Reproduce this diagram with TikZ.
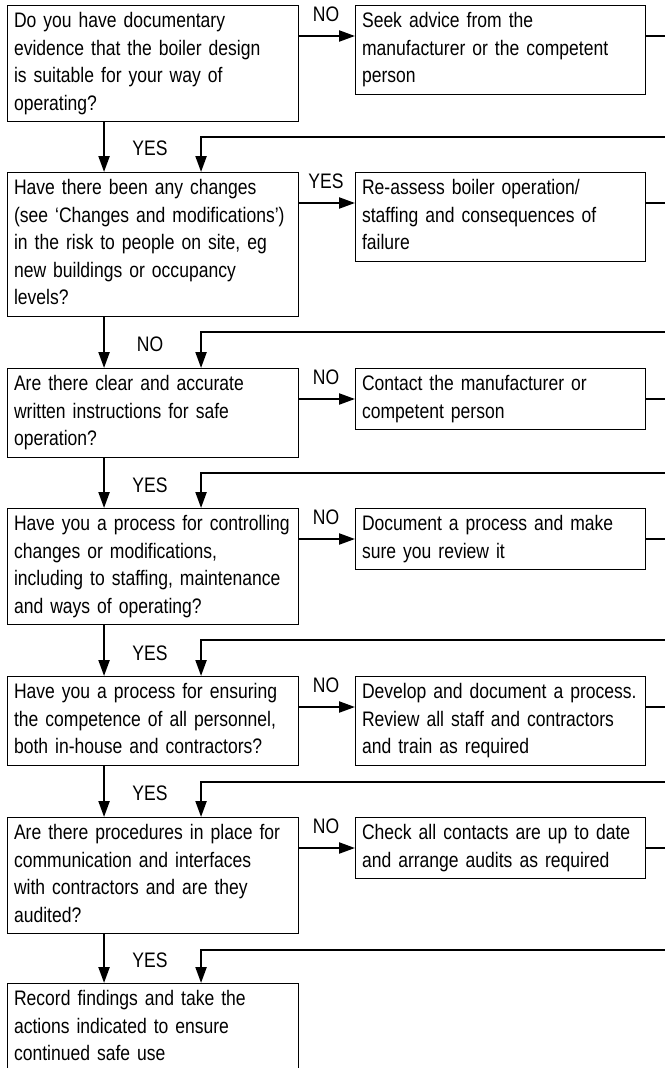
\documentclass[tikz,border=0pt]{standalone}
\usepackage{fontspec}
\setmainfont{Liberation Sans}[FakeStretch=0.835]
\usetikzlibrary{arrows.meta}

\begin{document}
\begin{tikzpicture}[x=1pt,y=-1pt,
		box/.style={draw,line width=1.1pt,anchor=north west,align=left,inner xsep=6.5pt,inner ysep=3pt,font=\fontsize{21}{27.5}\selectfont,execute at begin node=\strut,execute at end node=\strut},
		qbox/.style={box,text width=278pt},
		abox/.style={box,text width=277pt},
		lbl/.style={font=\fontsize{21}{27.5}\selectfont,inner sep=0pt},
		arr/.style={line width=2.2pt,-{Triangle[length=16pt,width=11pt]}}]
			\useasboundingbox (0,0) rectangle (664,1068);
			\node[qbox] (q1) at (7,5) {Do you have documentary\\evidence that the boiler design\\is suitable for your way of\\operating?};
			\node[abox] (a1) at (355,5) {Seek advice from the\\manufacturer or the competent\\person};
			\node[qbox] (q2) at (7,172) {Have there been any changes\\(see ‘Changes and modifications’)\\in the risk to people on site, eg\\new buildings or occupancy\\levels?};
			\node[abox] (a2) at (355,172) {Re-assess boiler operation/\\staffing and consequences of\\failure};
			\node[qbox] (q3) at (7,368) {Are there clear and accurate\\written instructions for safe\\operation?};
			\node[abox] (a3) at (355,368) {Contact the manufacturer or\\competent person};
			\node[qbox] (q4) at (7,508) {Have you a process for controlling\\changes or modifications,\\including to staffing, maintenance\\and ways of operating?};
			\node[abox] (a4) at (355,508) {Document a process and make\\sure you review it};
			\node[qbox] (q5) at (7,676) {Have you a process for ensuring\\the competence of all personnel,\\both in-house and contractors?};
			\node[abox] (a5) at (355,676) {Develop and document a process.\\Review all staff and contractors\\and train as required};
			\node[qbox] (q6) at (7,817) {Are there procedures in place for\\communication and interfaces\\with contractors and are they\\audited?};
			\node[abox] (a6) at (355,817) {Check all contacts are up to date\\and arrange audits as required};
			\node[qbox] (q7) at (7,983) {Record findings and take the\\actions indicated to ensure\\continued safe use};

			\node[lbl] (h1) at (326,14) {NO};
			\node[lbl] (h2) at (326,181) {YES};
			\node[lbl] (h3) at (326,377) {NO};
			\node[lbl] (h4) at (326,517) {NO};
			\node[lbl] (h5) at (326,685) {NO};
			\node[lbl] (h6) at (326,826) {NO};
			\node[lbl] (v1) at (150,148.5) {YES};
			\node[lbl] (v2) at (150,344.5) {NO};
			\node[lbl] (v3) at (150,485) {YES};
			\node[lbl] (v4) at (150,653) {YES};
			\node[lbl] (v5) at (150,793.5) {YES};
			\node[lbl] (v6) at (150,960.5) {YES};

			\coordinate (r1) at (672,137);
			\coordinate (r2) at (672,332);
			\coordinate (r3) at (672,473);
			\coordinate (r4) at (672,640);
			\coordinate (r5) at (672,782);
			\coordinate (r6) at (672,950);

			\draw[arr] ([yshift=-31pt]q1.north east) -- ([yshift=-31pt]a1.north west);
			\draw[arr] ([yshift=-31pt]q2.north east) -- ([yshift=-31pt]a2.north west);
			\draw[arr] ([yshift=-31pt]q3.north east) -- ([yshift=-31pt]a3.north west);
			\draw[arr] ([yshift=-31pt]q4.north east) -- ([yshift=-31pt]a4.north west);
			\draw[arr] ([yshift=-31pt]q5.north east) -- ([yshift=-31pt]a5.north west);
			\draw[arr] ([yshift=-31pt]q6.north east) -- ([yshift=-31pt]a6.north west);

			\draw[arr] ([xshift=-49pt]q1.south) -- ([xshift=-49pt]q2.north);
			\draw[arr] ([xshift=-49pt]q2.south) -- ([xshift=-49pt]q3.north);
			\draw[arr] ([xshift=-49pt]q3.south) -- ([xshift=-49pt]q4.north);
			\draw[arr] ([xshift=-49pt]q4.south) -- ([xshift=-49pt]q5.north);
			\draw[arr] ([xshift=-49pt]q5.south) -- ([xshift=-49pt]q6.north);
			\draw[arr] ([xshift=-49pt]q6.south) -- ([xshift=-49pt]q7.north);

			\draw[arr] ([yshift=-31pt]a1.north east) -| (r1) -| ([xshift=48pt]q2.north);
			\draw[arr] ([yshift=-31pt]a2.north east) -| (r2) -| ([xshift=48pt]q3.north);
			\draw[arr] ([yshift=-31pt]a3.north east) -| (r3) -| ([xshift=48pt]q4.north);
			\draw[arr] ([yshift=-31pt]a4.north east) -| (r4) -| ([xshift=48pt]q5.north);
			\draw[arr] ([yshift=-31pt]a5.north east) -| (r5) -| ([xshift=48pt]q6.north);
			\draw[arr] ([yshift=-31pt]a6.north east) -| (r6) -| ([xshift=48pt]q7.north);
		\end{tikzpicture}
\end{document}
